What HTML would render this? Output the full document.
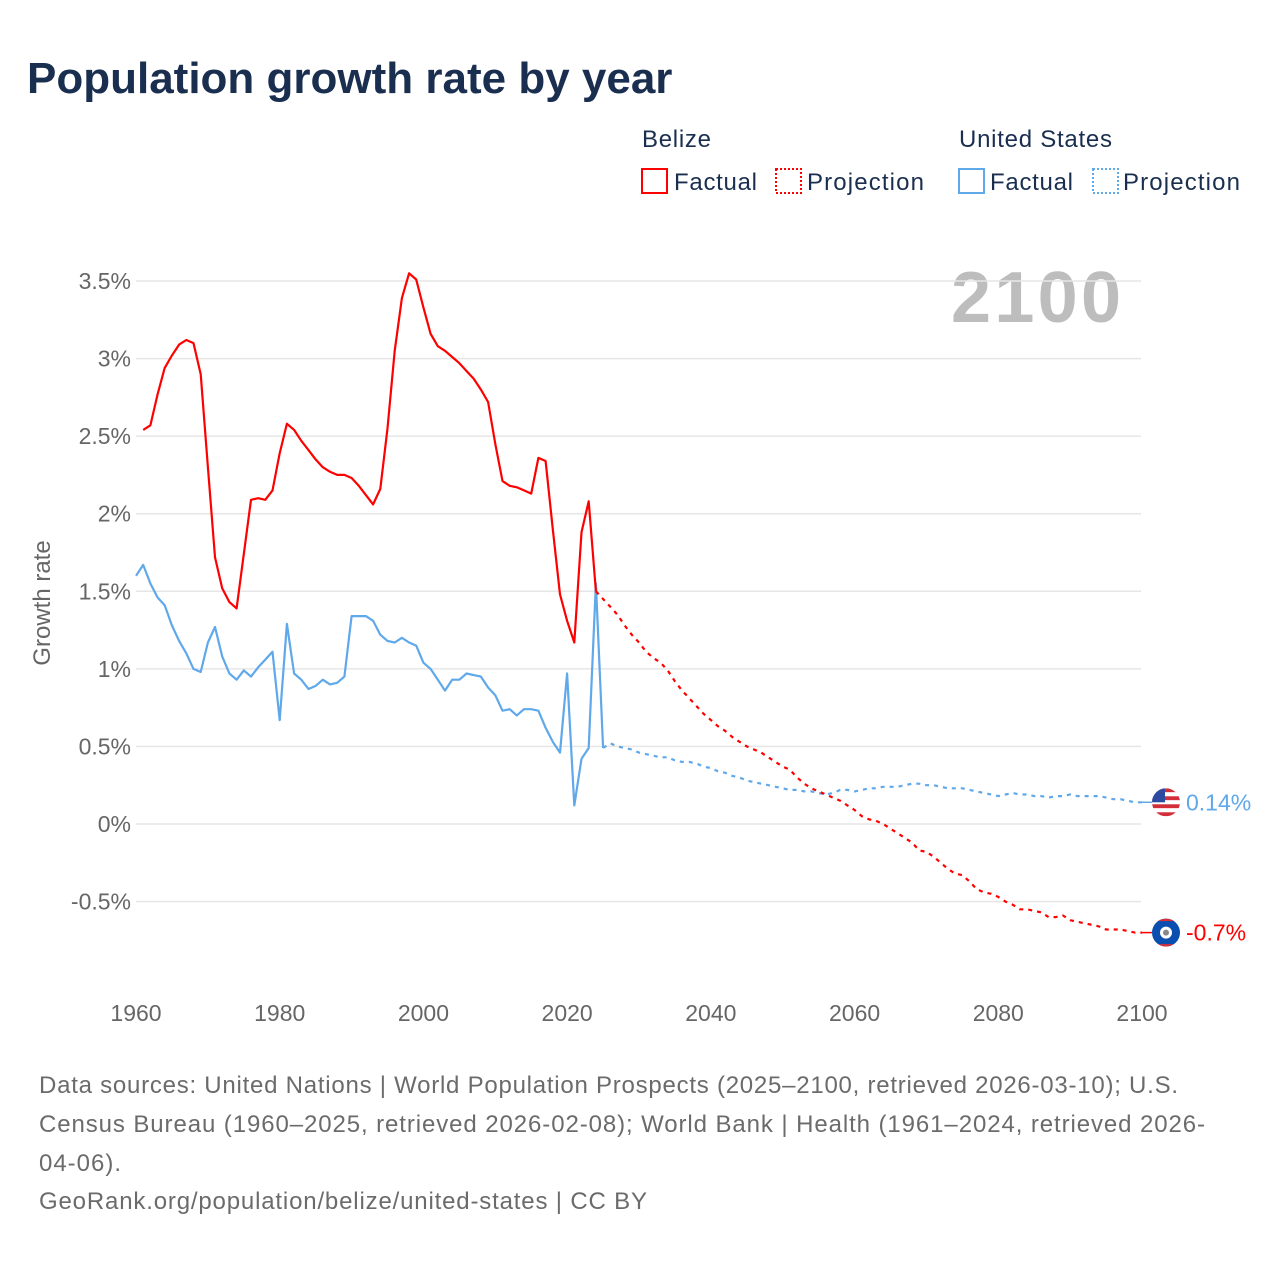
<!DOCTYPE html>
<html><head><meta charset="utf-8">
<style>
html,body{margin:0;padding:0;background:#fff;}
body{width:1280px;height:1280px;overflow:hidden;font-family:"Liberation Sans",sans-serif;}
</style></head>
<body>
<svg id="chart" width="1280" height="1280" xmlns="http://www.w3.org/2000/svg" font-family="Liberation Sans, sans-serif">
  <rect width="1280" height="1280" fill="#fff"/>
  <text x="27" y="93" font-size="44" font-weight="bold" fill="#1a2e4f">Population growth rate by year</text>
  <g font-size="24" fill="#1a2e4f">
    <text x="642" y="147" textLength="69">Belize</text>
    <text x="959" y="147" textLength="153">United States</text>
    <g><rect x="642" y="169" width="25" height="24" fill="none" stroke="#ff0000" stroke-width="2"/><text x="674" y="190" textLength="83">Factual</text></g>
    <g><rect x="776" y="169" width="25" height="24" fill="none" stroke="#ff0000" stroke-width="2" stroke-dasharray="2,2"/><text x="807" y="190" textLength="117">Projection</text></g>
    <g><rect x="959" y="169" width="25" height="24" fill="none" stroke="#5fa8ea" stroke-width="2"/><text x="990" y="190" textLength="83">Factual</text></g>
    <g><rect x="1093" y="169" width="25" height="24" fill="none" stroke="#5fa8ea" stroke-width="2" stroke-dasharray="2,2"/><text x="1123" y="190" textLength="117">Projection</text></g>
  </g>
  <text x="1121" y="322" font-size="72" font-weight="bold" fill="#bdbdbd" text-anchor="end" textLength="170">2100</text>
  <text transform="translate(50,603) rotate(-90)" font-size="24" fill="#666" text-anchor="middle">Growth rate</text>
  <g id="grid"></g>
  <g id="xticks"></g>
  <g id="yticks"></g>
  <g id="series"></g>
  <g font-size="24" fill="#6b6b6b">
    <text x="39" y="1093" textLength="1139">Data sources: United Nations | World Population Prospects (2025–2100, retrieved 2026-03-10); U.S.</text>
    <text x="39" y="1132" textLength="1166">Census Bureau (1960–2025, retrieved 2026-02-08); World Bank | Health (1961–2024, retrieved 2026-</text>
    <text x="39" y="1171" textLength="82">04-06).</text>
    <text x="39" y="1209" textLength="608">GeoRank.org/population/belize/united-states | CC BY</text>
  </g>
</svg>
<script>
const xTicks = [1960,1980,2000,2020,2040,2060,2080,2100];
const yTicks = [-0.5,0,0.5,1,1.5,2,2.5,3,3.5];
const yTickLabels = ["-0.5%","0%","0.5%","1%","1.5%","2%","2.5%","3%","3.5%"];
const belizeFactualStart = 1961;
const belizeFactual = [2.54,2.57,2.77,2.94,3.02,3.09,3.12,3.10,2.90,2.30,1.72,1.52,1.43,1.39,1.74,2.09,2.10,2.09,2.15,2.39,2.58,2.54,2.47,2.41,2.35,2.30,2.27,2.25,2.25,2.23,2.18,2.12,2.06,2.16,2.55,3.05,3.39,3.55,3.51,3.33,3.16,3.08,3.05,3.01,2.97,2.92,2.87,2.80,2.72,2.45,2.21,2.18,2.17,2.15,2.13,2.36,2.34,1.90,1.48,1.31,1.17,1.88,2.08,1.50];
const belizeProjStart = 2024;
const belizeProj = [1.50,1.45,1.40,1.35,1.28,1.22,1.17,1.11,1.07,1.04,0.99,0.92,0.86,0.81,0.76,0.71,0.67,0.63,0.60,0.56,0.53,0.50,0.48,0.46,0.43,0.40,0.37,0.35,0.30,0.26,0.23,0.21,0.19,0.17,0.15,0.12,0.09,0.05,0.03,0.02,0.00,-0.03,-0.06,-0.09,-0.12,-0.17,-0.18,-0.21,-0.25,-0.29,-0.32,-0.33,-0.37,-0.42,-0.44,-0.45,-0.47,-0.50,-0.52,-0.55,-0.55,-0.56,-0.57,-0.60,-0.60,-0.59,-0.62,-0.63,-0.64,-0.65,-0.66,-0.68,-0.68,-0.68,-0.69,-0.70,-0.70];
const usFactualStart = 1960;
const usFactual = [1.60,1.67,1.55,1.46,1.41,1.28,1.18,1.10,1.00,0.98,1.17,1.27,1.08,0.97,0.93,0.99,0.95,1.01,1.06,1.11,0.67,1.29,0.97,0.93,0.87,0.89,0.93,0.90,0.91,0.95,1.34,1.34,1.34,1.31,1.22,1.18,1.17,1.20,1.17,1.15,1.04,1.00,0.93,0.86,0.93,0.93,0.97,0.96,0.95,0.88,0.83,0.73,0.74,0.70,0.74,0.74,0.73,0.62,0.53,0.46,0.97,0.12,0.42,0.49,1.55,0.49];
const usProjStart = 2025;
const usProj = [0.49,0.52,0.50,0.49,0.48,0.46,0.45,0.44,0.43,0.43,0.41,0.40,0.40,0.39,0.37,0.36,0.34,0.33,0.31,0.30,0.28,0.27,0.26,0.25,0.24,0.23,0.22,0.22,0.21,0.21,0.20,0.19,0.20,0.22,0.22,0.21,0.22,0.23,0.23,0.24,0.24,0.24,0.25,0.26,0.26,0.25,0.25,0.24,0.23,0.23,0.23,0.22,0.21,0.20,0.19,0.18,0.19,0.20,0.19,0.19,0.18,0.18,0.17,0.18,0.18,0.19,0.18,0.18,0.18,0.18,0.17,0.16,0.16,0.15,0.14,0.14];
const endLabels = ["0.14%","-0.7%"];

const NS = "http://www.w3.org/2000/svg";
function xs(yr){ return 136 + (yr-1960)*(1006/140); }
function ys(v){ return 824 - v*155.14; }
function mk(tag, attrs, parent){ const e=document.createElementNS(NS,tag); for(const k in attrs) e.setAttribute(k,attrs[k]); parent.appendChild(e); return e; }

const grid=document.getElementById('grid'), yt=document.getElementById('yticks'), xt=document.getElementById('xticks'), ser=document.getElementById('series');
yTicks.forEach((v,i)=>{
  const l=mk('line',{x1:136,x2:1141,y1:ys(v),y2:ys(v),stroke:'#e6e6e6','stroke-width':1.5},grid);
  
  
  const t=mk('text',{x:131,y:ys(v)+8,'font-size':23,fill:'#666','text-anchor':'end'},yt);
  t.textContent=yTickLabels[i];
  
  
});
xTicks.forEach(v=>{
  const t=mk('text',{x:xs(v),y:1021,'font-size':23,fill:'#666','text-anchor':'middle'},xt);
  t.textContent=v;
  
  
});
function line(start, arr, color, dashed, name){
  const d=arr.map((v,i)=>(i?'L':'M')+xs(start+i).toFixed(1)+','+ys(v).toFixed(1)).join('');
  const p=mk('path',{d:d,fill:'none',stroke:color,'stroke-width':2.2,'stroke-linejoin':'round'},ser);
  if(dashed) p.setAttribute('stroke-dasharray','4,5');
  
  
}
line(usFactualStart,usFactual,'#5fa8ea',false,'us-factual-line');
line(usProjStart,usProj,'#5fa8ea',true,'us-projection-line');
line(belizeFactualStart,belizeFactual,'#ff0000',false,'belize-factual-line');
line(belizeProjStart,belizeProj,'#ff0000',true,'belize-projection-line');

const usEnd=usProj[usProj.length-1], bzEnd=belizeProj[belizeProj.length-1];
const ux=1166, uy=ys(usEnd), by=ys(bzEnd);
const uf=mk('g',{},ser);


mk('line',{x1:xs(2100),x2:ux-14,y1:uy,y2:uy,stroke:'#5fa8ea','stroke-width':1.5},uf);
const cp=mk('clipPath',{id:'cu'},uf);
mk('circle',{cx:ux,cy:uy,r:14},cp);
const ug=mk('g',{'clip-path':'url(#cu)'},uf);
for(let i=0;i<7;i++) mk('rect',{x:ux-14,y:uy-14+i*4,width:28,height:4,fill:i%2?'#fff':'#d22f3a'},ug);
mk('rect',{x:ux-14,y:uy-14,width:13,height:14,fill:'#2b4aa0'},ug);
const ul=mk('text',{x:1186,y:uy+8,'font-size':23,fill:'#5fa8ea'},ser);
ul.textContent=endLabels[0];


const bf=mk('g',{},ser);


mk('line',{x1:xs(2100),x2:ux-14,y1:by,y2:by,stroke:'#ff0000','stroke-width':1.5},bf);
const cp2=mk('clipPath',{id:'cb'},bf);
mk('circle',{cx:ux,cy:by,r:14},cp2);
const bg=mk('g',{'clip-path':'url(#cb)'},bf);
mk('rect',{x:ux-14,y:by-14,width:28,height:28,fill:'#0a4fb0'},bg);
mk('rect',{x:ux-14,y:by-14,width:28,height:2.5,fill:'#d22f3a'},bg);
mk('rect',{x:ux-14,y:by+11.5,width:28,height:2.5,fill:'#d22f3a'},bg);
mk('circle',{cx:ux,cy:by,r:6,fill:'#fff'},bf);
mk('circle',{cx:ux,cy:by,r:3,fill:'#888'},bf);
const bl=mk('text',{x:1186,y:by+8,'font-size':23,fill:'#ff0000'},ser);
bl.textContent=endLabels[1];


</script>
</body></html>
